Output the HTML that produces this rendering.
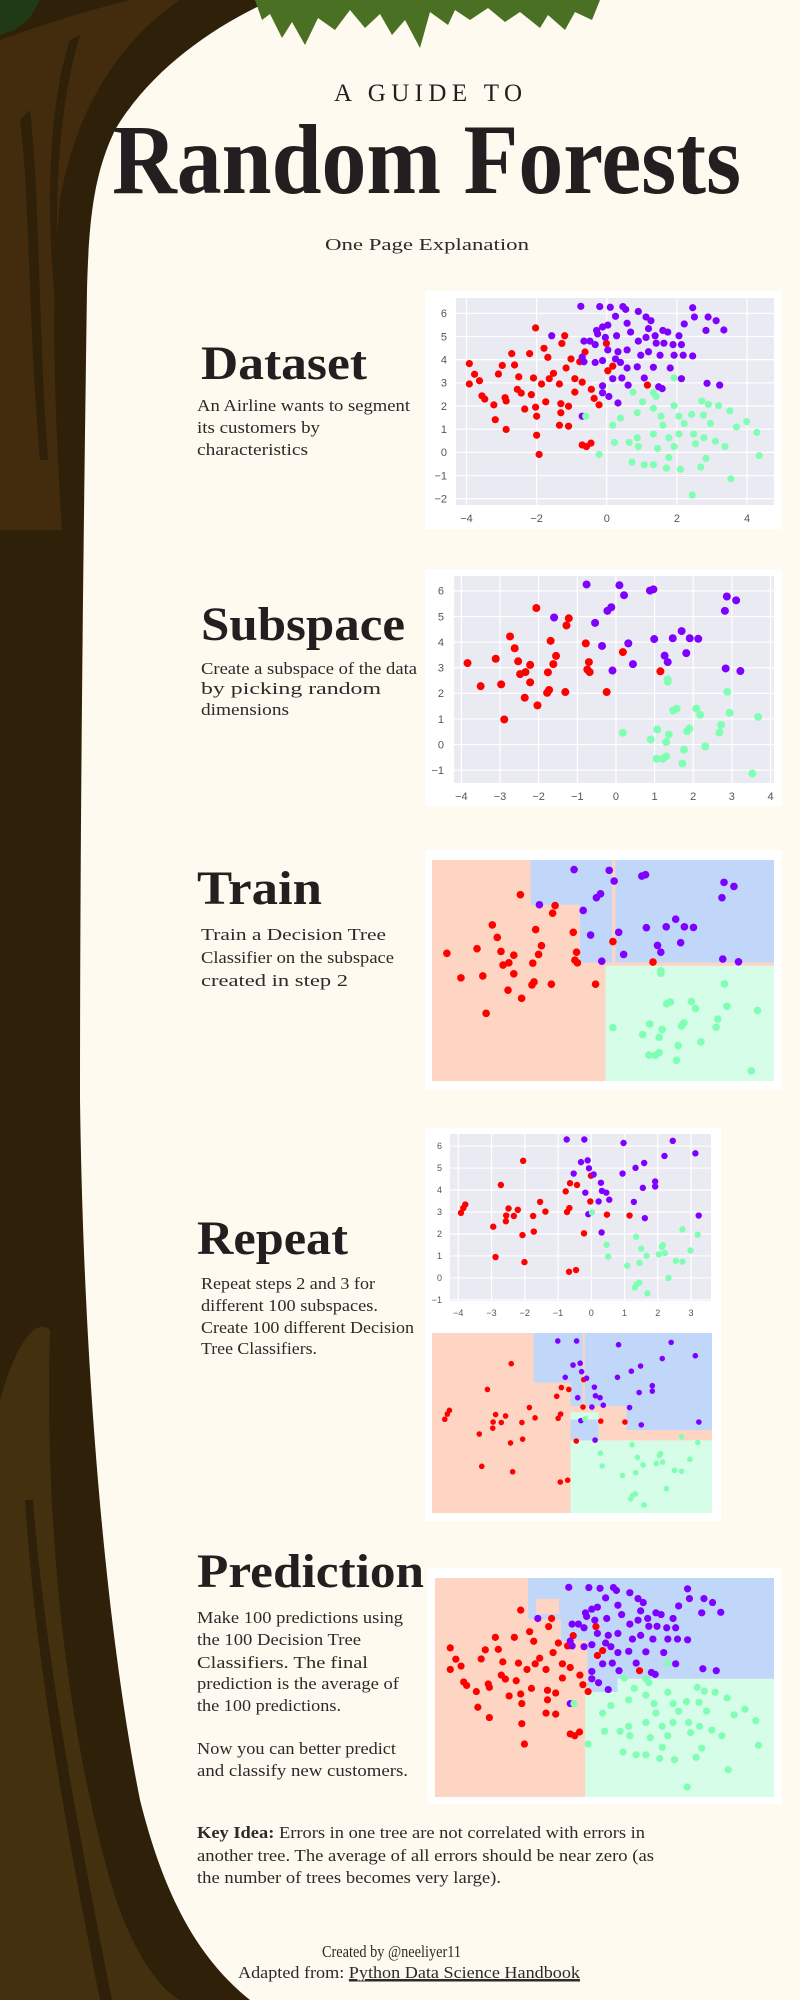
<!DOCTYPE html>
<html><head><meta charset="utf-8">
<style>
html,body{margin:0;padding:0;background:#fffaef;}
svg{display:block;}
.hd{font-family:"Liberation Serif",serif;font-weight:bold;fill:#231f20;}
.bt{font-family:"Liberation Serif",serif;fill:#2b2b2b;font-size:17px;}
.tk{font-family:"Liberation Sans",sans-serif;fill:#555;}
</style></head>
<body>
<svg id="page" width="800" height="2000" viewBox="0 0 800 2000" xmlns="http://www.w3.org/2000/svg">
<rect x="0" y="0" width="800" height="2000" fill="#fffaef"/>
<g>
<path fill="#2e2009" d="M0,0 L272,0 C215,25 150,70 115,130 C96,170 89,210 87,290 C84,500 80,800 80,1100 C84,1400 110,1650 140,1800 C165,1900 200,1960 250,2000 L0,2000 Z"/>
<path fill="#432c0d" d="M0,40 C40,25 90,10 130,0 L180,0 C120,40 75,110 60,200 C50,300 55,420 62,530 L0,530 Z"/>
<path fill="#2e2009" d="M20,120 C30,200 28,320 40,460 L48,460 C38,320 40,200 30,110 Z"/>
<path fill="#2e2009" d="M70,40 C50,100 45,200 55,300 L60,300 C52,200 60,100 80,35 Z"/>
<path fill="#43300f" d="M0,1400 C20,1330 40,1320 50,1330 C45,1500 60,1700 110,1880 C130,1950 160,1990 180,2000 L0,2000 Z"/>
<path fill="#2e2009" d="M25,1500 C35,1650 60,1800 100,2000 L112,2000 C72,1800 45,1650 33,1500 Z"/>
<path fill="#1f3a14" d="M0,0 L40,0 L30,18 L15,30 L0,35 Z"/>
<path fill="#4a7023" d="M255,0 L600,0 L592,20 L575,12 L565,30 L548,15 L540,28 L520,12 L505,22 L488,8 L470,20 L455,10 L448,25 L430,12 L420,48 L405,20 L392,35 L380,14 L365,28 L350,10 L335,30 L318,18 L305,45 L292,22 L282,38 L270,14 L262,20 Z"/>
</g>

<text x="428" y="101" font-size="25" text-anchor="middle" textLength="188" lengthAdjust="spacing" style="font-family:'Liberation Serif',serif;fill:#231f20;font-weight:normal">A GUIDE TO</text>
<text class="hd" x="112" y="193" font-size="100" textLength="629" lengthAdjust="spacingAndGlyphs">Random Forests</text>
<text class="bt" x="325" y="250" font-size="21" textLength="204" lengthAdjust="spacingAndGlyphs">One Page Explanation</text>

<text class="hd" x="201" y="379" font-size="48" textLength="166" lengthAdjust="spacingAndGlyphs">Dataset</text>
<text class="bt" x="197" y="411" textLength="213" lengthAdjust="spacingAndGlyphs">An Airline wants to segment</text>
<text class="bt" x="197" y="433" textLength="123" lengthAdjust="spacingAndGlyphs">its customers by</text>
<text class="bt" x="197" y="455" textLength="111" lengthAdjust="spacingAndGlyphs">characteristics</text>

<text class="hd" x="201" y="640" font-size="48" textLength="204" lengthAdjust="spacingAndGlyphs">Subspace</text>
<text class="bt" x="201" y="674" textLength="216" lengthAdjust="spacingAndGlyphs">Create a subspace of the data</text>
<text class="bt" x="201" y="694" textLength="180" lengthAdjust="spacingAndGlyphs">by picking random</text>
<text class="bt" x="201" y="715" textLength="88" lengthAdjust="spacingAndGlyphs">dimensions</text>

<text class="hd" x="197" y="904" font-size="48" textLength="125" lengthAdjust="spacingAndGlyphs">Train</text>
<text class="bt" x="201" y="940" textLength="185" lengthAdjust="spacingAndGlyphs">Train a Decision Tree</text>
<text class="bt" x="201" y="963" textLength="193" lengthAdjust="spacingAndGlyphs">Classifier on the subspace</text>
<text class="bt" x="201" y="986" textLength="147" lengthAdjust="spacingAndGlyphs">created in step 2</text>

<text class="hd" x="197" y="1254" font-size="48" textLength="151" lengthAdjust="spacingAndGlyphs">Repeat</text>
<text class="bt" x="201" y="1289" textLength="174" lengthAdjust="spacingAndGlyphs">Repeat steps 2 and 3 for</text>
<text class="bt" x="201" y="1311" textLength="177" lengthAdjust="spacingAndGlyphs">different 100 subspaces.</text>
<text class="bt" x="201" y="1333" textLength="213" lengthAdjust="spacingAndGlyphs">Create 100 different Decision</text>
<text class="bt" x="201" y="1354" textLength="116" lengthAdjust="spacingAndGlyphs">Tree Classifiers.</text>

<text class="hd" x="197" y="1587" font-size="48" textLength="227" lengthAdjust="spacingAndGlyphs">Prediction</text>
<text class="bt" x="197" y="1623" textLength="206" lengthAdjust="spacingAndGlyphs">Make 100 predictions using</text>
<text class="bt" x="197" y="1645" textLength="164" lengthAdjust="spacingAndGlyphs">the 100 Decision Tree</text>
<text class="bt" x="197" y="1668" textLength="171" lengthAdjust="spacingAndGlyphs">Classifiers. The final</text>
<text class="bt" x="197" y="1689" textLength="202" lengthAdjust="spacingAndGlyphs">prediction is the average of</text>
<text class="bt" x="197" y="1711" textLength="144" lengthAdjust="spacingAndGlyphs">the 100 predictions.</text>
<text class="bt" x="197" y="1754" textLength="199" lengthAdjust="spacingAndGlyphs">Now you can better predict</text>
<text class="bt" x="197" y="1776" textLength="211" lengthAdjust="spacingAndGlyphs">and classify new customers.</text>

<text class="bt" x="197" y="1838" textLength="448" lengthAdjust="spacingAndGlyphs"><tspan font-weight="bold">Key Idea:</tspan> Errors in one tree are not correlated with errors in</text>
<text class="bt" x="197" y="1861" textLength="457" lengthAdjust="spacingAndGlyphs">another tree. The average of all errors should be near zero (as</text>
<text class="bt" x="197" y="1883" textLength="304" lengthAdjust="spacingAndGlyphs">the number of trees becomes very large).</text>

<text class="bt" x="322" y="1957" font-size="16" textLength="139" lengthAdjust="spacingAndGlyphs">Created by @neeliyer11</text>
<text class="bt" x="238" y="1978" font-size="16" textLength="342" lengthAdjust="spacingAndGlyphs">Adapted from: <tspan text-decoration="underline">Python Data Science Handbook</tspan></text>
<line x1="349" y1="1981" x2="580" y2="1981" stroke="#2b2b2b" stroke-width="1"/>

<g id="charts"></g>
</svg>
<script>
// ---------- Dataset (full data) ----------
const datasetX = [-3.92,-3.77,-3.63,-3.92,-3.56,-3.48,-3.22,-3.09,-2.98,-2.71,-2.63,-2.2,-2.03,-1.79,-1.68,-2.9,-2.87,-2.51,-2.55,-2.44,-2.34,-2.09,-2.15,-2.03,-1.86,-1.74,-1.64,-1.52,-1.35,-1.31,-1.2,-1.28,-1.16,-1.09,-1.02,-0.91,-0.77,-0.7,-0.62,-0.44,-0.36,-0.22,-0.01,0.03,0.17,1.16,-3.18,-2.87,-2.0,-1.93,-1.35,-1.09,-0.7,-0.58,-0.45,-2.0,-1.31,-0.91,
-0.74,-0.2,0.1,0.46,0.54,0.9,0.25,1.12,1.26,2.45,2.5,2.89,3.12,3.34,2.83,2.21,0.58,0.03,-0.12,-0.29,-0.26,-1.57,-0.65,-0.48,-0.04,0.28,-0.33,0.68,1.19,1.6,1.74,2.06,0.9,1.12,1.38,1.41,1.63,1.89,2.13,0.03,0.32,0.58,0.97,1.19,1.52,1.92,2.18,2.45,-0.33,-0.12,0.25,0.39,0.58,0.87,1.33,1.81,-0.7,-0.65,0.17,0.43,1.07,2.13,-0.12,0.61,1.48,1.58,2.86,3.22,0.06,0.32,-0.7,-0.12,
1.92,0.75,1.33,1.41,1.02,1.33,1.92,2.71,2.9,3.19,3.51,0.87,1.55,2.06,2.42,2.76,0.17,0.39,1.6,2.21,2.96,3.7,3.99,4.28,4.35,3.37,3.1,2.77,2.48,2.06,1.77,1.33,0.87,0.64,0.22,0.9,1.45,1.92,2.53,-0.22,0.72,1.07,1.33,1.7,2.1,2.68,2.83,1.77,3.54,2.44,-0.6];
const datasetY = [3.83,3.37,3.09,2.95,2.44,2.3,2.05,3.38,3.75,4.26,3.77,4.26,5.37,4.49,4.1,2.36,2.22,3.26,2.72,2.56,1.87,3.21,2.49,1.95,2.95,2.18,3.18,3.41,2.95,2.1,5.03,4.7,3.64,1.99,4.03,2.6,3.91,3.03,4.33,2.72,2.33,2.05,4.7,3.52,3.72,2.9,1.41,0.99,0.74,-0.09,1.17,1.13,0.32,0.25,0.4,1.56,1.71,3.18,
6.3,6.29,6.26,6.29,6.17,6.08,5.87,5.84,5.68,6.24,5.84,5.84,5.68,5.28,5.26,5.54,5.57,5.49,5.41,5.26,5.11,5.03,4.8,4.8,4.96,5.03,4.65,5.19,5.34,5.26,5.19,5.03,4.8,4.96,5.03,4.71,4.71,4.65,4.65,4.42,4.34,4.42,4.19,4.34,4.19,4.19,4.19,4.16,3.88,3.96,4.03,3.88,3.64,3.69,3.67,3.64,4.11,3.91,3.18,3.21,3.21,3.18,2.87,2.9,2.83,2.75,2.98,2.9,2.41,2.13,1.56,2.57,
3.21,2.6,2.57,2.41,2.18,1.9,2.02,2.22,2.07,2.02,1.79,1.71,1.56,1.56,1.64,1.61,1.17,1.48,1.17,1.25,1.25,1.1,1.33,0.86,-0.14,0.25,0.48,0.63,0.79,0.79,0.63,0.79,0.63,0.43,0.43,0.25,0.17,0.25,0.37,-0.09,-0.42,-0.53,-0.53,-0.68,-0.73,-0.63,-0.26,-0.22,-1.14,-1.84,1.56];
// number of points in class 0 (red) and class 1 (purple); the rest are class 2 (green)
const datasetCounts = [58, 72];

// ---------- Subspace (also used for Train) ----------
const subX = [-3.84,-3.5,-3.11,-2.97,-2.89,-2.74,-2.62,-2.53,-2.48,-2.34,-2.36,-2.22,-2.22,-2.06,-2.03,-1.76,-1.78,-1.73,-1.69,-1.62,-1.55,-1.28,-1.22,-1.31,-0.78,-0.7,-0.74,-0.68,-0.24,0.18,1.15,
-0.76,0.09,0.21,0.88,0.97,-1.6,-0.54,-0.22,-0.12,-0.36,0.32,-0.09,0.44,0.99,1.47,1.7,1.91,2.13,1.26,1.34,1.82,2.87,3.11,2.82,2.84,3.22,
1.34,1.34,2.88,2.94,1.57,1.48,2.08,2.18,3.68,0.18,0.9,1.07,1.37,1.3,1.84,1.9,2.72,2.68,2.31,1.76,1.05,1.21,1.3,1.72,3.53];
const subY = [3.18,2.28,3.35,2.35,0.98,4.22,3.76,3.25,2.75,2.83,1.83,3.11,2.43,5.33,1.53,2.82,2.02,2.13,4.05,3.14,3.46,4.65,4.93,2.05,3.95,3.22,2.93,2.83,2.05,3.61,2.86,
6.25,6.22,5.83,6.01,6.06,4.96,4.75,5.22,5.36,3.85,3.95,2.89,3.14,4.12,4.15,4.43,4.15,4.13,3.47,3.22,3.57,5.78,5.63,5.22,2.97,2.87,
2.54,2.45,2.06,1.24,1.4,1.33,1.41,1.16,1.08,0.46,0.2,0.59,0.39,0.1,0.52,0.63,0.77,0.47,-0.07,-0.2,-0.55,-0.56,-0.46,-0.74,-1.13];
const subCounts = [31, 26];

// ---------- Repeat (another subspace) ----------
const repX = [-3.92,-3.85,-3.79,-2.95,-2.88,-2.72,-2.57,-2.56,-2.49,-2.33,-2.21,-2.07,-2.05,-2.01,-1.75,-1.73,-1.54,-1.38,-0.77,-0.73,-0.66,-0.64,-0.43,-0.67,-0.46,-0.22,-0.03,-0.01,0.47,1.15,
-0.74,-0.21,0.97,2.45,3.13,2.2,-0.31,-0.11,-0.07,-0.53,0.07,0.94,1.33,1.59,0.29,1.55,1.92,1.92,-0.18,0.32,0.45,0.54,0.22,1.28,-0.09,1.61,3.23,0.31,
0.02,1.35,0.46,0.51,1.5,1.66,2.12,2.15,2.03,2.21,1.45,1.08,2.54,2.74,2.98,2.74,3.2,2.32,1.44,1.36,1.31,1.69];
const repY = [2.96,3.18,3.34,2.33,0.95,4.23,2.58,2.84,3.16,2.82,3.1,1.95,5.33,0.72,2.82,2.11,3.46,3.02,3.94,3.0,3.18,4.31,4.23,0.28,0.36,2.03,3.48,4.65,2.88,2.84,
6.3,6.3,6.14,6.24,5.67,5.55,5.27,5.35,4.99,4.75,4.71,4.75,5.01,5.23,4.33,4.1,4.39,4.16,3.88,3.96,3.88,3.56,3.48,3.46,2.9,2.72,2.84,2.07,
2.98,1.87,1.51,0.97,1.33,1.01,1.41,1.49,1.07,1.13,0.68,0.56,0.78,0.74,1.25,2.21,1.97,0.0,-0.22,-0.3,-0.44,-0.7];
const repCounts = [30, 28];

// ---------- Decision regions: class, x0, x1, y0, y1 (data units) ----------
const trainRegClass = [1,1,1,2];
const trainRegX0 = [-1.81,-0.62,0.24,0.0];
const trainRegX1 = [0.16,0.16,4.08,4.08];
const trainRegY0 = [4.96,2.84,2.84,-1.5];
const trainRegY1 = [6.6,4.96,6.6,2.72];

const repRegClass = [1,1,1,1,2,2,1];
const repRegX0 = [-1.42,-0.38,0.02,1.19,-0.38,-0.38,-0.38];
const repRegX1 = [-0.04,-0.04,3.6,3.6,3.6,0.41,0.41];
const repRegY0 = [4.53,3.52,3.52,2.5,-1.04,2.95,2.06];
const repRegY1 = [6.64,4.53,6.64,3.52,2.06,3.26,2.95];

const predRegClass = [1,1,1,1,2,2,0];
const predRegX0 = [-1.83,-0.95,-0.24,-0.24,-0.3,0.57,-1.62];
const predRegX1 = [4.77,4.77,4.77,0.57,4.77,4.77,-1.0];
const predRegY0 = [5.01,4.13,2.57,2.03,-2.25,2.03,5.21];
const predRegY1 = [6.68,5.01,4.13,2.57,2.03,2.57,5.83];

// ---------- Ticks ----------
const datasetTicksX = [-4,-2,0,2,4];
const datasetTicksY = [-2,-1,0,1,2,3,4,5,6];
const subTicksX = [-4,-3,-2,-1,0,1,2,3,4];
const subTicksY = [-1,0,1,2,3,4,5,6];
const repTicksX = [-4,-3,-2,-1,0,1,2,3];
const repTicksY = [-1,0,1,2,3,4,5,6];

const NS = "http://www.w3.org/2000/svg";
const DOT = ["#ff0000","#8000ff","#80ffb4"];
const REG = ["#fdd5c2","#c0d7fa","#d5fde8"];
const root = document.getElementById("charts");

function el(tag, attrs, parent){
  const e = document.createElementNS(NS, tag);
  for (const k in attrs) e.setAttribute(k, attrs[k]);
  parent.appendChild(e);
  return e;
}
function scale(d0,d1,p0,p1){ return v => p0 + (v-d0)/(d1-d0)*(p1-p0); }
function classOf(i, counts){ return i < counts[0] ? 0 : (i < counts[0] + counts[1] ? 1 : 2); }

function panel(name, bx, by, bw, bh){
  const g = el("g", {}, root);
  
  
  const r = el("rect", {x:bx,y:by,width:bw,height:bh,fill:"#ffffff"}, g);
  
  
  return g;
}

function plot(g, name, px0, py0, px1, py1, dom, xs, ys, counts, r, opt){
  const sx = scale(dom[0], dom[1], px0, px1);
  const sy = scale(dom[2], dom[3], py1, py0);
  const bg = el("rect", {x:px0,y:py0,width:px1-px0,height:py1-py0,fill: opt.regions ? REG[0] : "#eaeaf2"}, g);
  
  
  if (opt.regions){
    const R = opt.regions;
    for (let i=0;i<R.c.length;i++){
      const xa = sx(R.x0[i]), xb = sx(R.x1[i]), ya = sy(R.y1[i]), yb = sy(R.y0[i]);
      const rr = el("rect", {x:xa,y:ya,width:xb-xa,height:yb-ya,fill:REG[R.c[i]]}, g);
      
      
    }
  }
  if (opt.tx){
    opt.tx.forEach(t => {
      const x = sx(t);
      const gl = el("line", {x1:x,x2:x,y1:py0,y2:py1,stroke:"#ffffff","stroke-width":1.2}, g);
      
      
      const lb = el("text", {x:x,y:opt.xLabelY,"text-anchor":"middle","font-size":opt.fs,class:"tk"}, g);
      lb.textContent = String(t).replace('-', '\u2212');
      
      
    });
    opt.ty.forEach(t => {
      const y = sy(t);
      const gl = el("line", {x1:px0,x2:px1,y1:y,y2:y,stroke:"#ffffff","stroke-width":1.2}, g);
      
      
      const lb = el("text", {x:opt.yLabelX,y:y+opt.fs*0.35,"text-anchor":"end","font-size":opt.fs,class:"tk"}, g);
      lb.textContent = String(t).replace('-', '\u2212');
      
      
    });
  }
  for (let i=0;i<xs.length;i++){
    const c = classOf(i, counts);
    const d = el("circle", {cx:sx(xs[i]), cy:sy(ys[i]), r:r, fill:DOT[c]}, g);
    
    
  }
}

// Dataset chart
let g = panel("dataset-chart", 425, 291, 357, 238);
plot(g, "dataset", 456, 298, 774, 505, [-4.3,4.77,-2.27,6.66], datasetX, datasetY, datasetCounts, 3.6,
  {tx:datasetTicksX, ty:datasetTicksY, xLabelY:522, yLabelX:447, fs:11});

// Subspace chart
g = panel("subspace-chart", 425, 569, 357, 237);
plot(g, "subspace", 454, 576, 774, 783, [-4.19,4.09,-1.5,6.58], subX, subY, subCounts, 4,
  {tx:subTicksX, ty:subTicksY, xLabelY:800, yLabelX:444, fs:11});

// Train chart
g = panel("train-chart", 425, 850, 357, 240);
plot(g, "train", 432, 860, 774, 1081, [-4.2,4.08,-1.5,6.6], subX, subY, subCounts, 3.8,
  {regions:{c:trainRegClass,x0:trainRegX0,x1:trainRegX1,y0:trainRegY0,y1:trainRegY1}});

// Repeat charts
g = panel("repeat-chart", 425, 1128, 296, 393);
plot(g, "repeat-scatter", 450, 1134, 711, 1301, [-4.25,3.6,-1.05,6.55], repX, repY, repCounts, 3.2,
  {tx:repTicksX, ty:repTicksY, xLabelY:1316, yLabelX:442, fs:9});
plot(g, "repeat-regions", 432, 1333, 712, 1513, [-4.28,3.6,-1.04,6.64], repX, repY, repCounts, 2.8,
  {regions:{c:repRegClass,x0:repRegX0,x1:repRegX1,y0:repRegY0,y1:repRegY1}});

// Prediction chart
g = panel("prediction-chart", 427, 1568, 355, 236);
plot(g, "prediction", 435, 1578, 774, 1797, [-4.33,4.77,-2.25,6.68], datasetX, datasetY, datasetCounts, 3.6,
  {regions:{c:predRegClass,x0:predRegX0,x1:predRegX1,y0:predRegY0,y1:predRegY1}});
</script>
</body></html>
